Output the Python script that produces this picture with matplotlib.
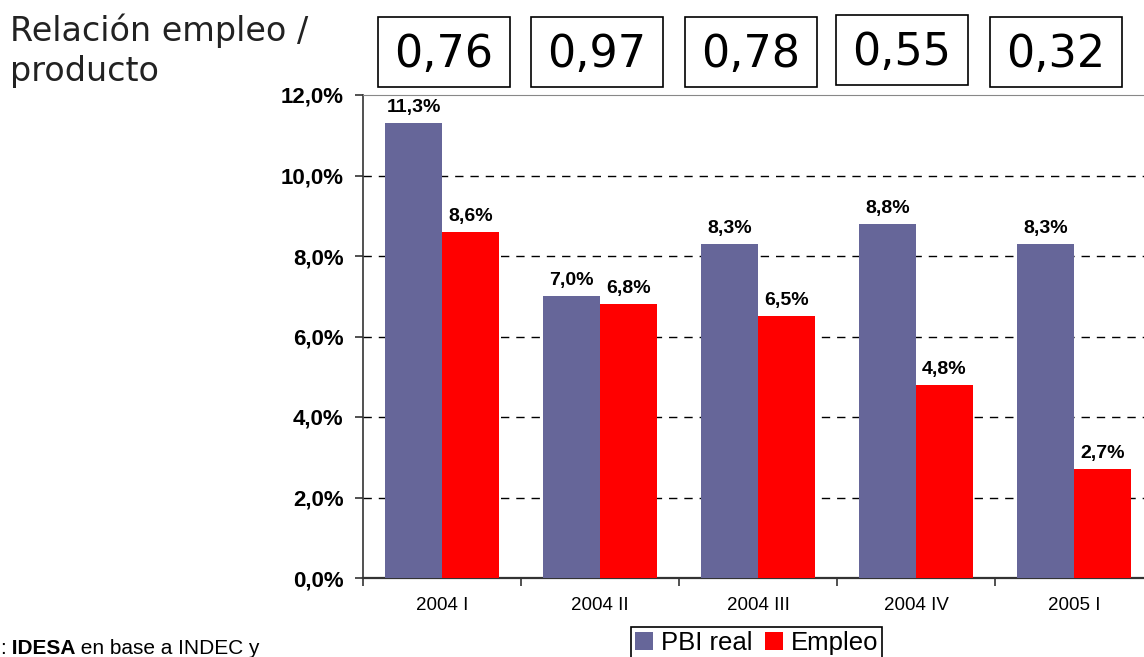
import matplotlib
matplotlib.use("Agg")
import matplotlib.pyplot as plt
import numpy as np
from matplotlib.patches import Rectangle

categories = ["2004 I", "2004 II", "2004 III", "2004 IV", "2005 I"]
pbi_real = [11.3, 7.0, 8.3, 8.8, 8.3]
empleo = [8.6, 6.8, 6.5, 4.8, 2.7]
ratios = ["0,76", "0,97", "0,78", "0,55", "0,32"]
y_ticks = [0, 2, 4, 6, 8, 10, 12]

W, H = 1144, 657
PBI_COLOR = "#666699"
EMP_COLOR = "#FF0000"

fig = plt.figure(figsize=(W / 100, H / 100), dpi=100)
fig.patch.set_facecolor("white")


def fx(px):
    return px / W


def fy(py):
    return 1 - py / H


# plot area runs past the right edge, as in the original slide
ax = fig.add_axes([fx(363), fy(578), fx(790), fy(95) - fy(578)])

x = np.arange(len(categories))
bw = 0.36
ax.bar(x - bw / 2, pbi_real, bw, color=PBI_COLOR, label="PBI real", zorder=3)
ax.bar(x + bw / 2, empleo, bw, color=EMP_COLOR, label="Empleo", zorder=3)

for xs, vals in ((x - bw / 2, pbi_real), (x + bw / 2, empleo)):
    for xi, v in zip(xs, vals):
        ax.annotate(f"{v:.1f}%".replace(".", ","), (xi, v), xytext=(0, 5),
                    textcoords="offset points", ha="center", va="bottom",
                    fontsize=14, fontweight="bold", family="Liberation Sans")

ax.set_xlim(-0.5, len(categories) - 0.5)
ax.set_ylim(0, 12)
ax.set_yticks(y_ticks)
ax.set_yticklabels([f"{t:.1f}%".replace(".", ",") for t in y_ticks],
                   fontsize=16, fontweight="bold", family="Liberation Sans")
ax.tick_params(axis="y", direction="out", length=6, width=1.2, pad=8, color="#333333")

ax.set_xticks(x)
ax.set_xticklabels(categories, fontsize=13.5, family="Liberation Sans")
ax.set_xticks(np.arange(len(categories) + 1) - 0.5, minor=True)
ax.tick_params(axis="x", which="major", length=0, pad=14)
ax.tick_params(axis="x", which="minor", direction="out", length=6, width=1.2, color="#333333")

for t in y_ticks[1:-1]:
    ax.axhline(t, color="black", lw=1, ls=(0, (6, 5)), zorder=1)

ax.spines["right"].set_visible(False)
ax.spines["top"].set_color("#888888")
ax.spines["left"].set_color("#333333")
ax.spines["left"].set_linewidth(1.2)
ax.spines["bottom"].set_color("#333333")
ax.spines["bottom"].set_linewidth(1.6)

# title at top left
fig.text(fx(10), fy(41), "Relación empleo /", fontsize=24, family="DejaVu Sans",
         color="#222222", va="baseline", ha="left")
fig.text(fx(10), fy(81), "producto", fontsize=24, family="DejaVu Sans",
         color="#222222", va="baseline", ha="left")

# ratio boxes
box_left = [378, 531, 685, 836, 990]
box_top = [17, 17, 17, 15, 17]
bw_px, bh_px = 132, 70
for left, top, r in zip(box_left, box_top, ratios):
    fig.patches.append(Rectangle((fx(left), fy(top + bh_px)), fx(bw_px), fy(0) - fy(bh_px),
                                 transform=fig.transFigure, facecolor="white",
                                 edgecolor="black", lw=1.2))
    fig.text(fx(left + bw_px / 2), fy(top + bh_px / 2 + 2), r, fontsize=32,
             family="DejaVu Sans", ha="center", va="center")

# source note, clipped at the left edge in the original
t1 = fig.text(fx(0), fy(648), ":", fontsize=15, family="Liberation Sans",
              va="center", ha="left")
t2 = ax.annotate(" IDESA", xy=(1, 0.5), xycoords=t1, va="center", ha="left",
                 fontsize=15, fontweight="bold", family="Liberation Sans",
                 annotation_clip=False)
ax.annotate(" en base a INDEC y", xy=(1, 0.5), xycoords=t2, va="center", ha="left",
            fontsize=15, family="Liberation Sans", annotation_clip=False)

leg = fig.legend(loc="upper left", bbox_to_anchor=(fx(631), fy(627)), ncol=2,
                 frameon=True, fancybox=False, edgecolor="black", framealpha=1,
                 prop={"family": "Liberation Sans", "size": 18.5},
                 handlelength=0.7, handleheight=0.7, handletextpad=0.3,
                 columnspacing=0.5, borderpad=0.15, borderaxespad=0)
leg.get_frame().set_linewidth(1.2)

fig.savefig("out.png", dpi=100)
